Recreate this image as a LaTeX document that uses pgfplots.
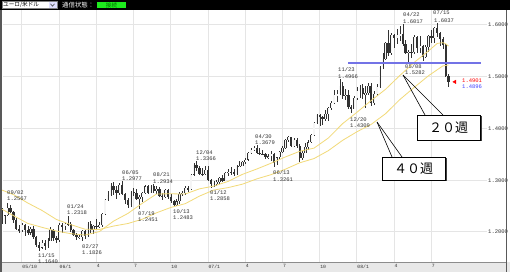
\documentclass[border=0pt]{standalone}
\usepackage{pgfplots}
\pgfplotsset{compat=1.18}
\usepackage{pgfplotstable}
\usepackage{fontspec}
\setmainfont{Liberation Sans}
\setmonofont{Liberation Mono}
\newfontfamily\jp{Noto Sans CJK JP}

\definecolor{maY}{RGB}{242,218,120}
\definecolor{supB}{RGB}{115,115,230}
\definecolor{downC}{RGB}{50,50,50}
\definecolor{upC}{RGB}{245,245,245}
\definecolor{okG}{RGB}{30,235,30}

\pgfplotstableread{
w o h l c
-7 1.2420 1.2460 1.2160 1.2180
-6 1.2180 1.2330 1.2150 1.2320
-5 1.2320 1.2567 1.2300 1.2470
-4 1.2470 1.2530 1.2360 1.2380
-3 1.2380 1.2400 1.2180 1.2240
-2 1.2240 1.2280 1.2040 1.2060
-1 1.2060 1.2130 1.1990 1.2030
0 1.2030 1.2170 1.2000 1.2130
1 1.2130 1.2160 1.1930 1.2040
2 1.2040 1.2110 1.1940 1.1990
3 1.1990 1.2100 1.1950 1.2060
4 1.2060 1.2120 1.1870 1.1910
5 1.1910 1.1930 1.1710 1.1750
6 1.1750 1.1810 1.1640 1.1700
7 1.1700 1.1850 1.1670 1.1790
8 1.1790 1.1840 1.1650 1.1720
9 1.1720 1.1880 1.1700 1.1830
10 1.1830 1.2100 1.1820 1.2040
11 1.2040 1.2060 1.1820 1.1880
12 1.1880 1.1920 1.1790 1.1840
13 1.1840 1.2170 1.1810 1.2140
14 1.2140 1.2170 1.1980 1.2110
15 1.2110 1.2180 1.2030 1.2160
16 1.2160 1.2318 1.2120 1.2150
17 1.2150 1.2200 1.2000 1.2030
18 1.2030 1.2050 1.1930 1.1950
19 1.1950 1.1990 1.1840 1.1900
20 1.1900 1.1970 1.1860 1.1910
21 1.1910 1.2040 1.1826 1.2020
22 1.2020 1.2040 1.1860 1.1920
23 1.1920 1.2190 1.1900 1.2160
24 1.2160 1.2220 1.1980 1.2030
25 1.2030 1.2140 1.1960 1.2110
26 1.2110 1.2250 1.2040 1.2110
27 1.2110 1.2190 1.2080 1.2130
28 1.2130 1.2360 1.2100 1.2340
29 1.2340 1.2640 1.2320 1.2620
30 1.2620 1.2790 1.2590 1.2720
31 1.2720 1.2940 1.2690 1.2890
32 1.2890 1.2960 1.2720 1.2820
33 1.2820 1.2880 1.2640 1.2750
34 1.2750 1.2940 1.2710 1.2910
35 1.2910 1.2977 1.2720 1.2740
36 1.2740 1.2760 1.2540 1.2620
37 1.2620 1.2660 1.2460 1.2530
38 1.2530 1.2800 1.2480 1.2780
39 1.2780 1.2850 1.2700 1.2760
40 1.2760 1.2840 1.2620 1.2640
41 1.2640 1.2710 1.2451 1.2670
42 1.2670 1.2780 1.2580 1.2750
43 1.2750 1.2900 1.2730 1.2880
44 1.2880 1.2910 1.2740 1.2760
45 1.2760 1.2900 1.2750 1.2890
46 1.2890 1.2934 1.2760 1.2790
47 1.2790 1.2880 1.2740 1.2830
48 1.2830 1.2870 1.2680 1.2700
49 1.2700 1.2750 1.2620 1.2680
50 1.2680 1.2830 1.2660 1.2810
51 1.2810 1.2830 1.2640 1.2680
52 1.2680 1.2740 1.2560 1.2590
53 1.2590 1.2610 1.2483 1.2530
54 1.2530 1.2630 1.2500 1.2590
55 1.2590 1.2770 1.2540 1.2740
56 1.2740 1.2800 1.2700 1.2760
57 1.2760 1.2880 1.2710 1.2850
58 1.2850 1.2880 1.2770 1.2830
59 1.2830 1.3130 1.2820 1.3110
60 1.3110 1.3330 1.3080 1.3300
61 1.3300 1.3366 1.3170 1.3230
62 1.3230 1.3280 1.3100 1.3130
63 1.3130 1.3230 1.3080 1.3120
64 1.3120 1.3270 1.3110 1.3200
65 1.3200 1.3280 1.2990 1.3000
66 1.3000 1.3020 1.2858 1.2930
67 1.2930 1.2990 1.2870 1.2950
68 1.2950 1.3010 1.2890 1.2960
69 1.2960 1.3070 1.2920 1.3040
70 1.3040 1.3100 1.2960 1.2990
71 1.2990 1.3160 1.2980 1.3140
72 1.3140 1.3220 1.3090 1.3160
73 1.3160 1.3260 1.3100 1.3150
74 1.3150 1.3210 1.3080 1.3120
75 1.3120 1.3290 1.3110 1.3270
76 1.3270 1.3380 1.3250 1.3280
77 1.3280 1.3380 1.3270 1.3360
78 1.3360 1.3430 1.3320 1.3400
79 1.3400 1.3550 1.3370 1.3530
80 1.3530 1.3620 1.3500 1.3590
81 1.3590 1.3660 1.3560 1.3620
82 1.3620 1.3679 1.3510 1.3530
83 1.3530 1.3620 1.3480 1.3510
84 1.3510 1.3580 1.3490 1.3510
85 1.3510 1.3520 1.3410 1.3450
86 1.3450 1.3500 1.3420 1.3460
87 1.3460 1.3560 1.3380 1.3510
88 1.3510 1.3520 1.3261 1.3330
89 1.3330 1.3450 1.3300 1.3440
90 1.3440 1.3560 1.3410 1.3540
91 1.3540 1.3660 1.3520 1.3620
92 1.3620 1.3800 1.3600 1.3780
93 1.3780 1.3850 1.3730 1.3830
94 1.3830 1.3840 1.3640 1.3670
95 1.3670 1.3820 1.3640 1.3770
96 1.3770 1.3810 1.3620 1.3670
97 1.3670 1.3700 1.3360 1.3430
98 1.3430 1.3560 1.3400 1.3530
99 1.3530 1.3720 1.3520 1.3640
100 1.3640 1.3770 1.3580 1.3730
101 1.3730 1.3900 1.3720 1.3880
102 1.3880 1.4130 1.3860 1.4110
103 1.4110 1.4280 1.4090 1.4260
104 1.4260 1.4280 1.4050 1.4220
105 1.4220 1.4240 1.4070 1.4180
106 1.4180 1.4350 1.4150 1.4280
107 1.4280 1.4420 1.4150 1.4400
108 1.4400 1.4530 1.4360 1.4500
109 1.4500 1.4750 1.4480 1.4640
110 1.4640 1.4750 1.4520 1.4670
111 1.4670 1.4966 1.4650 1.4830
112 1.4830 1.4900 1.4570 1.4630
113 1.4630 1.4760 1.4560 1.4650
114 1.4650 1.4750 1.4380 1.4420
115 1.4420 1.4450 1.4309 1.4380
116 1.4380 1.4630 1.4370 1.4590
117 1.4590 1.4800 1.4560 1.4730
118 1.4730 1.4850 1.4580 1.4780
119 1.4780 1.4860 1.4570 1.4670
120 1.4670 1.4820 1.4400 1.4680
121 1.4680 1.4880 1.4650 1.4830
122 1.4830 1.4870 1.4440 1.4500
123 1.4500 1.4720 1.4450 1.4660
124 1.4660 1.4860 1.4620 1.4800
125 1.4800 1.5210 1.4780 1.5190
126 1.5190 1.5460 1.5150 1.5350
127 1.5350 1.5680 1.5320 1.5660
128 1.5660 1.5900 1.5410 1.5450
129 1.5450 1.5850 1.5420 1.5800
130 1.5800 1.5820 1.5550 1.5740
131 1.5740 1.5920 1.5630 1.5810
132 1.5810 1.5980 1.5690 1.5820
133 1.5820 1.6017 1.5590 1.5630
134 1.5630 1.5710 1.5440 1.5460
135 1.5460 1.5520 1.5282 1.5480
136 1.5480 1.5630 1.5370 1.5470
137 1.5470 1.5800 1.5440 1.5760
138 1.5760 1.5780 1.5450 1.5550
139 1.5550 1.5780 1.5450 1.5590
140 1.5590 1.5620 1.5300 1.5390
141 1.5390 1.5610 1.5360 1.5570
142 1.5570 1.5800 1.5480 1.5790
143 1.5790 1.5910 1.5660 1.5740
144 1.5740 1.5960 1.5660 1.5950
145 1.5950 1.6037 1.5760 1.5850
146 1.5850 1.5870 1.5600 1.5720
147 1.5720 1.5760 1.5540 1.5610
148 1.5610 1.5630 1.4990 1.5010
149 1.5010 1.5050 1.4800 1.4896
}\candles

\tikzset{lbl/.style={anchor=west, inner sep=0pt, font=\ttfamily\fontsize{5.5}{5.5}\selectfont, text=black!80}}
\pgfplotsset{nomark/.style={only marks, mark=*, mark size=0.1pt, mark options={draw=none, fill=none, draw opacity=0, fill opacity=0}}}

\begin{document}
\begin{tikzpicture}
\path[use as bounding box] (0pt,0pt) rectangle (510pt,272pt);
\fill[white] (0pt,0pt) rectangle (510pt,272pt);
\fill[gray!18] (0pt,0pt) rectangle (510pt,10pt);
\draw[black!45, line width=0.6pt] (0pt,10pt) -- (507pt,10pt);

\begin{axis}[
  at={(3pt,10pt)}, anchor=south west,
  scale only axis, width=484pt, height=252pt,
  xmin=-6.636, xmax=162.42, ymin=1.14203, ymax=1.62899,
  axis line style={draw=none},
  major tick length=0pt,
  xtick={0,13,26,39,52,65,78,91,104,117,130,143},
  xticklabels={05/10,06/1,4,7,10,07/1,4,7,10,08/1,4,7},
  ytick={1.2,1.3,1.4,1.5,1.6},
  yticklabels={1.2000,1.3000,1.4000,1.5000,1.6000},
  yticklabel pos=right,
  xmajorgrids, ymajorgrids,
  major grid style={color=gray!20, line width=1pt},
  xticklabel style={anchor=north west, inner sep=0pt, yshift=-2.6pt, xshift=0.3pt, font=\ttfamily\fontsize{4.8}{5}\selectfont, text=black!80},
  yticklabel style={anchor=west, inner sep=0pt, xshift=1pt, font=\ttfamily\fontsize{5.5}{6}\selectfont, text=black!80},
  clip=false,
]
% wicks
\addplot[nomark, forget plot,
  error bars/.cd, y dir=both, y explicit, error mark=none,
  error bar style={line width=0.45pt, color=black!80}]
  table[x=w, y expr={(\thisrow{h}+\thisrow{l})/2}, y error expr={(\thisrow{h}-\thisrow{l})/2}] {\candles};
% bodies (outline / dark fill)
\addplot[nomark, forget plot,
  error bars/.cd, y dir=both, y explicit, error mark=none,
  error bar style={line width=2.3pt, color=downC}]
  table[x=w, y expr={(\thisrow{o}+\thisrow{c})/2}, y error expr={max(abs(\thisrow{o}-\thisrow{c})/2,0.00025)}] {\candles};
% hollow interior of rising candles
\addplot[nomark, forget plot,
  error bars/.cd, y dir=both, y explicit, error mark=none,
  error bar style={line width=1.2pt, color=upC}]
  table[x=w, y expr={(\thisrow{o}+\thisrow{c})/2}, y error expr={max((\thisrow{c}-\thisrow{o})/2-0.00012,0)}] {\candles};

% 20-week moving average
\addplot[color=maY, line width=0.8pt, mark=none] coordinates {
(-7,1.2440) (-3,1.2317) (2,1.2167) (7,1.2090) (12,1.2018) (17,1.1968) (22,1.1941)
(27,1.2007) (32,1.2211) (37,1.2359) (42,1.2554) (47,1.2735) (52,1.2738) (57,1.2734)
(62,1.2834) (67,1.2887) (72,1.2978) (77,1.3114) (82,1.3217) (87,1.3329) (92,1.3450)
(97,1.3560) (102,1.3621) (107,1.3816) (112,1.4094) (117,1.4314) (122,1.4542)
(127,1.4758) (132,1.5026) (137,1.5277) (142,1.5499) (145,1.5643) (147,1.5659)
(148,1.5637) (149,1.5592)};
% 40-week moving average
\addplot[color=maY, line width=0.8pt, mark=none] coordinates {
(-7,1.2810) (-3,1.2724) (2,1.2561) (7,1.2416) (12,1.2243) (17,1.2143) (22,1.2054)
(27,1.2049) (32,1.2115) (37,1.2164) (42,1.2247) (47,1.2371) (52,1.2475) (57,1.2547)
(62,1.2694) (67,1.2811) (72,1.2858) (77,1.2924) (82,1.3026) (87,1.3108) (92,1.3214)
(97,1.3337) (102,1.3419) (107,1.3572) (112,1.3772) (117,1.3937) (122,1.4081)
(127,1.4287) (132,1.4560) (137,1.4795) (142,1.5020) (147,1.5209) (149,1.5228)};
% support line
\addplot[color=supB, line width=1.1pt, mark=none] coordinates {(113.9,1.5266) (160.3,1.5266)};
% current price marker
\addplot[only marks, mark=triangle*, mark size=2pt, mark options={rotate=90, draw=red, fill=red}] coordinates {(151.2,1.4901)};
\end{axis}

\begin{scope}[x=1pt,y=1pt]
% frame
\fill[black!65] (0,0) rectangle (1.7,262);
\fill[black!65] (505.8,0) rectangle (507,262);
% top bar
\fill[black] (0,262) rectangle (510,272);
\filldraw[fill=white, draw=gray, line width=0.4pt] (2,263.5) rectangle (57,270.5);
\fill[blue!12] (48.5,264) rectangle (56.5,270);
\draw[black!70, line width=0.6pt] (50.5,268.2) -- (52.5,265.8) -- (54.5,268.2);
\node[anchor=west, inner sep=0pt, font=\jp\fontsize{5.6}{5.6}\selectfont] at (3,267) {ユーロ/米ドル};
\node[anchor=west, inner sep=0pt, text=white, font=\jp\fontsize{6.4}{6.4}\selectfont] at (62,267) {通信状態：};
\fill[okG] (97,263.5) rectangle (126,270.2);
\node[inner sep=0pt, text=green!45!black, font=\jp\fontsize{5.6}{5.6}\selectfont] at (111.5,266.9) {接続};

% extreme labels
\node[lbl] at (7,79.3) {09/02};  \node[lbl] at (7,73) {1.2567};
\node[lbl] at (67,65) {01/24};   \node[lbl] at (67,59) {1.2318};
\node[lbl] at (38,16.5) {11/15}; \node[lbl] at (38,10.8) {1.1640};
\node[lbl] at (82,25) {02/27};   \node[lbl] at (82,19) {1.1826};
\node[lbl] at (122,99) {06/05};  \node[lbl] at (122,93) {1.2977};
\node[lbl] at (153,97) {08/21};  \node[lbl] at (153,90.5) {1.2934};
\node[lbl] at (138,58) {07/19};  \node[lbl] at (138,52) {1.2451};
\node[lbl] at (173,60) {10/13};  \node[lbl] at (173,54) {1.2483};
\node[lbl] at (196,119) {12/04}; \node[lbl] at (196,113) {1.3366};
\node[lbl] at (210,79) {01/12};  \node[lbl] at (210,73) {1.2858};
\node[lbl] at (255,135) {04/30}; \node[lbl] at (255,129) {1.3679};
\node[lbl] at (273,99) {06/13};  \node[lbl] at (273,92.5) {1.3261};
\node[lbl] at (338,202) {11/23}; \node[lbl] at (338,195) {1.4966};
\node[lbl] at (350,152) {12/20}; \node[lbl] at (350,146) {1.4309};
\node[lbl] at (403,257) {04/22}; \node[lbl] at (403,250) {1.6017};
\node[lbl] at (433,259) {07/15}; \node[lbl] at (434,251.3) {1.6037};
\node[lbl] at (405,205) {05/08}; \node[lbl] at (405,199.3) {1.5282};
\node[lbl, text=red] at (462,191) {1.4901};
\node[lbl, text=blue!75] at (462,185.5) {1.4896};

% callout 20 weeks
\draw[black, line width=0.6pt] (403,197) -- (425,157);
\draw[black, line width=0.6pt] (403,197) -- (443,157);
\fill[black!75] (418.5,130.5) rectangle (481.5,155.5);
\filldraw[fill=white, draw=black, line width=0.7pt] (417,132) rectangle (480,157);
\node[inner sep=0pt, font=\jp\fontsize{13}{13}\selectfont] at (448.5,144.5) {２０週};
% callout 40 weeks
\draw[black, line width=0.6pt] (377,150) -- (392,115);
\draw[black, line width=0.6pt] (377,150) -- (402,115);
\fill[black!75] (383.5,90.5) rectangle (446.5,113.5);
\filldraw[fill=white, draw=black, line width=0.7pt] (382,92) rectangle (445,115);
\node[inner sep=0pt, font=\jp\fontsize{13}{13}\selectfont] at (413.5,103.5) {４０週};
\end{scope}
\end{tikzpicture}
\end{document}
